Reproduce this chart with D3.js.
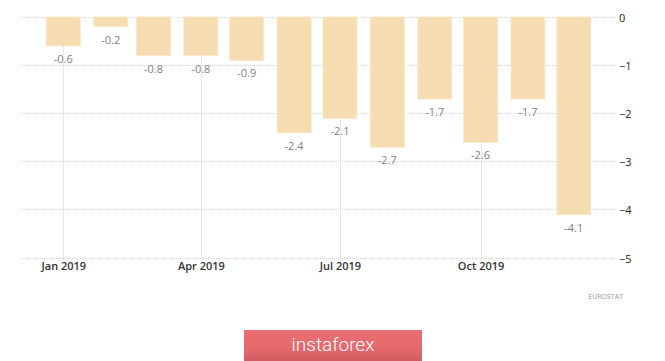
<!DOCTYPE html>
<html><head><meta charset="utf-8">
<script src="https://cdn.jsdelivr.net/npm/d3@7"></script>
<style>body{margin:0;background:#fff;}svg{display:block;}</style>
</head><body>
<svg id="c" width="665" height="361"></svg>
<script>
const months = ["2019-01","2019-02","2019-03","2019-04","2019-05","2019-06","2019-07","2019-08","2019-09","2019-10","2019-11","2019-12"];
const values = [-0.6,-0.2,-0.8,-0.8,-0.9,-2.4,-2.1,-2.7,-1.7,-2.6,-1.7,-4.1];
const yTicks = [0,-1,-2,-3,-4,-5];
const xTickMonths = ["2019-01","2019-04","2019-07","2019-10"];
const source = "EUROSTAT";
const brand = "instaforex";

const svg = d3.select("#c");
const parse = d3.timeParse("%Y-%m");
const x = d3.scaleTime().domain([parse("2019-01"), parse("2019-12")]).range([63.3, 573.8]);
const y = d3.scaleLinear().domain([0,-5]).range([17, 258.2]);
const left = 20, right = 615, barW = 34;
const font = "'Open Sans', 'DejaVu Sans', sans-serif";

// horizontal grid
svg.append("g").selectAll("line").data(yTicks).join("line")
  .attr("x1", left).attr("x2", right).attr("y1", d=>y(d)).attr("y2", d=>y(d))
  .attr("stroke", "#d8d8d8").attr("stroke-width", 1).attr("stroke-dasharray", "1,1")
  .attr("shape-rendering","crispEdges");
// vertical grid
svg.append("g").selectAll("line").data(xTickMonths).join("line")
  .attr("x1", d=>Math.round(x(parse(d)))+0.5).attr("x2", d=>Math.round(x(parse(d)))+0.5)
  .attr("y1", y(0)).attr("y2", y(-5)+3)
  .attr("stroke", "#e6e6e6").attr("stroke-width", 1);

// bars
svg.append("g").selectAll("rect").data(values).join("rect")
  .attr("x", (d,i)=>x(parse(months[i]))-barW/2)
  .attr("y", y(0))
  .attr("width", barW)
  .attr("height", d=>y(d)-y(0))
  .attr("fill", "#f5dcb1").attr("stroke","#f9e8cb").attr("stroke-width",1);

// value labels
svg.append("g").selectAll("text").data(values).join("text")
  .attr("x", (d,i)=>x(parse(months[i])))
  .attr("y", d=>y(d)+17)
  .attr("text-anchor","middle")
  .attr("font-family", font).attr("font-size", 11).attr("fill", "#7f8088")
  .text(d=>d.toFixed(1));

// y axis labels
const yAxis = d3.axisRight(y).tickValues(yTicks).tickSize(0).tickPadding(0).tickFormat(d3.format("d"));
const ga = svg.append("g").attr("transform", `translate(619,0.5)`).call(yAxis);
ga.select(".domain").remove();
ga.selectAll("text").attr("font-family", font).attr("font-size", 11).attr("fill", "#222");

// x axis labels
const xAxis = d3.axisBottom(x).tickValues(xTickMonths.map(parse)).tickSize(0).tickPadding(0).tickFormat(d3.timeFormat("%b %Y"));
const gx = svg.append("g").attr("transform", `translate(0,262)`).call(xAxis);
gx.select(".domain").remove();
gx.selectAll("text").attr("font-family", font).attr("font-size", 11).attr("fill", "#333").attr("font-weight", 600);

// source
svg.append("text").attr("x", 623).attr("y", 299).attr("text-anchor","end")
  .attr("font-family", font).attr("font-size", 7).attr("fill", "#999").text(source);

// brand logo
const defs = svg.append("defs");
const lg = defs.append("linearGradient").attr("id","lg").attr("x1",0).attr("x2",0).attr("y1",0).attr("y2",1);
lg.append("stop").attr("offset","0").attr("stop-color","#e86e72");
lg.append("stop").attr("offset","0.6").attr("stop-color","#e46a6e");
lg.append("stop").attr("offset","1").attr("stop-color","#cf5c60");
svg.append("rect").attr("x",244).attr("y",330).attr("width",178).attr("height",31).attr("fill","url(#lg)");
svg.append("text").attr("x",333).attr("y",351).attr("text-anchor","middle")
  .attr("font-family","'Roboto', 'Open Sans', sans-serif").attr("font-weight",300).attr("font-size",19).attr("fill","#fff").text(brand);
</script>
</body></html>
